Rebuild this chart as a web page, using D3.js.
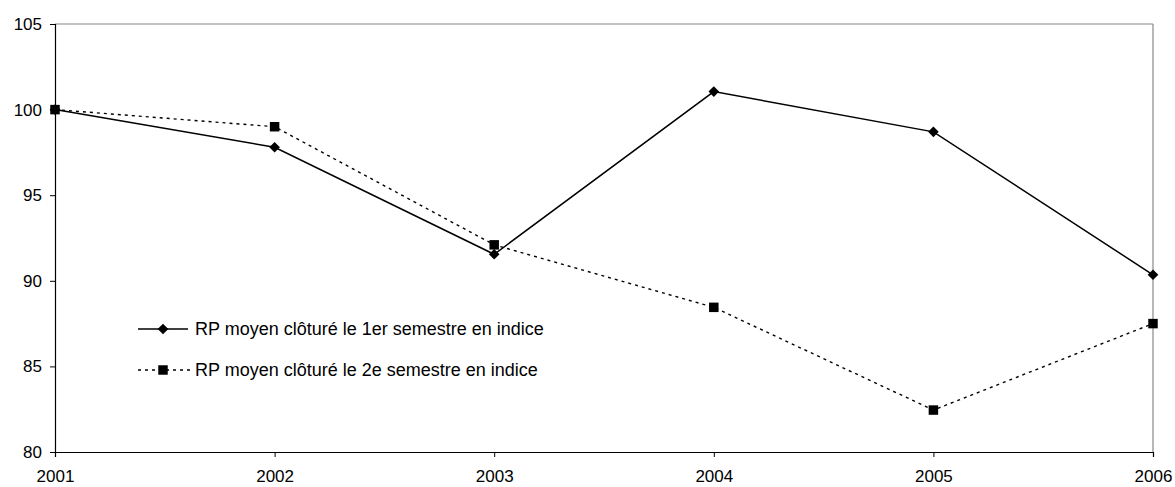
<!DOCTYPE html>
<html>
<head>
<meta charset="utf-8">
<script src="https://cdn.jsdelivr.net/npm/d3@7"></script>
<style>
  body { margin: 0; background: #fff; }
  svg text { font-family: "Liberation Sans", Arial, sans-serif; fill: #000; }
</style>
</head>
<body>
<div id="chart"></div>
<script>
// Data
let years = [2001, 2002, 2003, 2004, 2005, 2006];
let firstHalf = [100, 97.8, 91.55, 101.05, 98.7, 90.35];
let secondHalf = [100, 99.0, 92.1, 88.45, 82.45, 87.5];
let yTicks = [80, 85, 90, 95, 100, 105];
let seriesNames = [
    "RP moyen clôturé le 1er semestre en indice",
    "RP moyen clôturé le 2e semestre en indice"
];

let width = 1175;
let height = 487;
let plotLeft = 55, plotRight = 1153, plotTop = 24, plotBottom = 452;
let axisFont = "17px";
let legendFont = "18px";

let svg = d3.select("#chart")
    .append("svg")
    .attr("width", width)
    .attr("height", height);

let xScale = d3.scalePoint()
    .domain(years)
    .range([plotLeft, plotRight]);

let yScale = d3.scaleLinear()
    .domain([80, 105])
    .range([plotBottom, plotTop]);

// frame: gray top and right border
svg.append("line")
    .attr("x1", plotLeft).attr("x2", plotRight)
    .attr("y1", yScale(105)).attr("y2", yScale(105))
    .style("stroke", "#888").style("stroke-width", 1.2);
svg.append("line")
    .attr("x1", plotRight).attr("x2", plotRight)
    .attr("y1", plotTop).attr("y2", plotBottom)
    .style("stroke", "#888").style("stroke-width", 1.2);

// Y axis
let yAxis = d3.axisLeft(yScale)
    .tickValues(yTicks)
    .tickSize(5)
    .tickPadding(8);
let gy = svg.append("g")
    .attr("transform", "translate(" + plotLeft + ",0)")
    .call(yAxis);
gy.select(".domain").style("stroke", "#000").style("stroke-width", 1.2);
gy.selectAll(".tick line").style("stroke", "#000");
gy.selectAll("text").style("font-size", axisFont);

// X axis
let xAxis = d3.axisBottom(xScale)
    .tickSize(5)
    .tickPadding(13);
let gx = svg.append("g")
    .attr("transform", "translate(0," + plotBottom + ")")
    .call(xAxis);
gx.select(".domain").style("stroke", "#000").style("stroke-width", 1.2);
gx.selectAll(".tick line").style("stroke", "#000");
gx.selectAll("text").style("font-size", axisFont);

let rows1 = years.map(function (y, i) { return { year: y, value: firstHalf[i] }; });
let rows2 = years.map(function (y, i) { return { year: y, value: secondHalf[i] }; });

let line = d3.line()
    .x(function (d) { return xScale(d.year); })
    .y(function (d) { return yScale(d.value); });

// second semester: dotted with squares
svg.append("path")
    .datum(rows2)
    .attr("d", line)
    .style("fill", "none")
    .style("stroke", "#000")
    .style("stroke-width", 1.4)
    .style("stroke-dasharray", "3,4");

// first semester: solid with diamonds
svg.append("path")
    .datum(rows1)
    .attr("d", line)
    .style("fill", "none")
    .style("stroke", "#000")
    .style("stroke-width", 1.5);

let diamond = d3.symbol().type(d3.symbolDiamond2).size(72);
let square = d3.symbol().type(d3.symbolSquare).size(90);

svg.selectAll(".sq")
    .data(rows2)
    .enter()
    .append("path")
    .attr("class", "sq")
    .attr("d", square)
    .attr("transform", function (d) { return "translate(" + xScale(d.year) + "," + yScale(d.value) + ")"; })
    .style("fill", "#000");

svg.selectAll(".dm")
    .data(rows1)
    .enter()
    .append("path")
    .attr("class", "dm")
    .attr("d", diamond)
    .attr("transform", function (d) { return "translate(" + xScale(d.year) + "," + yScale(d.value) + ")"; })
    .style("fill", "#000");

// Legend
let legendY = [329, 370];
let legend = svg.append("g");

legend.append("line")
    .attr("x1", 138).attr("x2", 188)
    .attr("y1", legendY[0]).attr("y2", legendY[0])
    .style("stroke", "#000").style("stroke-width", 1.5);
legend.append("path")
    .attr("d", diamond)
    .attr("transform", "translate(163," + legendY[0] + ")")
    .style("fill", "#000");

legend.append("line")
    .attr("x1", 138).attr("x2", 190)
    .attr("y1", legendY[1]).attr("y2", legendY[1])
    .style("stroke", "#000").style("stroke-width", 1.4)
    .style("stroke-dasharray", "3,4");
legend.append("path")
    .attr("d", square)
    .attr("transform", "translate(163," + legendY[1] + ")")
    .style("fill", "#000");

legend.selectAll("text")
    .data(seriesNames)
    .enter()
    .append("text")
    .attr("x", 195)
    .attr("y", function (d, i) { return legendY[i] + 6; })
    .style("font-size", legendFont)
    .text(function (d) { return d; });
</script>
</body>
</html>
